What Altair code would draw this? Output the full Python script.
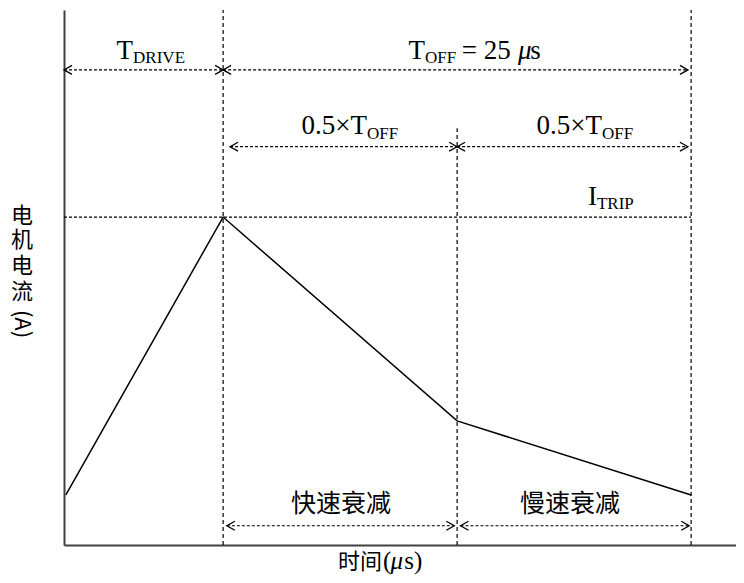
import altair as alt
import pandas as pd

# ---- data (x in µs, y in current units) ----
cur_t = [0.1, 8.5, 21.0, 33.5]
cur_i = [9.35, 61.3, 23.2, 9.35]

# dashed guide lines
vline_x = [8.5, 21.0, 33.5]
vline_top = [100, 77.9, 100]
itrip_level = 61.3
itrip_end = 33.5

# dashed arrows (left tip, right tip, level)
arr_x1 = [0.0, 8.5, 8.87, 21.0, 8.7, 21.18]
arr_x2 = [8.5, 33.33, 21.0, 33.33, 20.85, 33.4]
arr_y = [88.8, 88.8, 74.45, 74.45, 3.6, 3.6]

# main-size serif labels (right aligned before a subscript)
main_txt = ["T", "T", "0.5×T", "0.5×T", "I"]
main_x = [3.69, 19.28, 16.19, 28.74, 28.47]
main_y = [90.8, 90.8, 76.77, 76.77, 63.55]
# subscripts
sub_txt = ["DRIVE", "OFF", "OFF", "OFF", "TRIP"]
sub_y = [90.15, 90.15, 75.98, 75.98, 62.8]
# plain serif pieces (left aligned)
plain_txt = ["= 25", "s"]
plain_x = [21.25, 24.9]
plain_y = [90.8, 90.8]
ital_txt = ["μ"]
ital_x = [24.25]
ital_y = [90.8]
# x-axis title pieces
xt_serif_txt = ["(", "s)"]
xt_serif_x = [17.04, 18.18]
xt_ital_txt = ["μ"]
xt_ital_x = [17.44]
xt_serif_y = -4.5
# Chinese labels
cjk_txt = ["快速衰减", "慢速衰减"]
cjk_x = [14.8, 27.03]
cjk_y = [7.66, 7.66]
xtitle_txt = ["时间"]
xtitle_x = [16.99]
xtitle_y = [-3.2]
ytitle_chars = ["电", "机", "电", "流"]
ytitle_y = [61.5, 57.0, 52.1, 47.3]
ytitle_x = -2.24
ytitle_tail = "(A)"
ytitle_tail_y = 41.3

PX_PER_US = 18.72
PLOT_W = 672
XMAX = PLOT_W / PX_PER_US
xs = alt.Scale(domain=[0, XMAX], nice=False, zero=False)
ys = alt.Scale(domain=[0, 100], nice=False, zero=False)
SERIF = "Liberation Serif"
SANS = "Noto Sans CJK SC"
DASH_V = [4, 3]
DASH_H = [3, 2]

axis_x = alt.Axis(ticks=False, labels=False, grid=False, title=None,
                  domainColor="#404040", domainWidth=2)
axis_y = alt.Axis(ticks=False, labels=False, grid=False, title=None,
                  domainColor="#404040", domainWidth=2)

curve = pd.DataFrame({"t": cur_t, "i": cur_i})
line = alt.Chart(curve).mark_line(color="black", strokeWidth=1.5).encode(
    x=alt.X("t:Q", scale=xs, axis=axis_x),
    y=alt.Y("i:Q", scale=ys, axis=axis_y),
)

vdf = pd.DataFrame({"x": vline_x, "y": [0] * 3, "y2": vline_top})
vlines = alt.Chart(vdf).mark_rule(color="black", strokeWidth=1.2, strokeDash=DASH_V).encode(
    x=alt.X("x:Q", scale=xs), y=alt.Y("y:Q", scale=ys), y2="y2:Q")

hdf = pd.DataFrame({"x": [0], "x2": [itrip_end], "y": [itrip_level]})
hline = alt.Chart(hdf).mark_rule(color="black", strokeWidth=1.2, strokeDash=DASH_H).encode(
    x=alt.X("x:Q", scale=xs), x2="x2:Q", y=alt.Y("y:Q", scale=ys))

adf = pd.DataFrame({"x1": arr_x1, "x2": arr_x2, "y": arr_y})
shafts = alt.Chart(adf).mark_rule(color="black", strokeWidth=1.2, strokeDash=DASH_H).encode(
    x=alt.X("x1:Q", scale=xs), x2="x2:Q", y=alt.Y("y:Q", scale=ys))
left_heads = alt.Chart(adf).mark_point(
    shape="M1,-0.56L0,0L1,0.56", size=256, filled=False, color="black", strokeWidth=1.3,
    opacity=1).encode(x=alt.X("x1:Q", scale=xs), y=alt.Y("y:Q", scale=ys))
right_heads = alt.Chart(adf).mark_point(
    shape="M-1,-0.56L0,0L-1,0.56", size=256, filled=False, color="black", strokeWidth=1.3,
    opacity=1).encode(x=alt.X("x2:Q", scale=xs), y=alt.Y("y:Q", scale=ys))


def text_layer(xv, yv, tv, **kw):
    df = pd.DataFrame({"x": xv, "y": yv, "t": tv})
    return alt.Chart(df).mark_text(color="black", **kw).encode(
        x=alt.X("x:Q", scale=xs), y=alt.Y("y:Q", scale=ys), text="t:N")


main_lbl = text_layer(main_x, main_y, main_txt, font=SERIF, fontSize=27,
                      align="right", baseline="alphabetic")
sub_lbl = text_layer(main_x, sub_y, sub_txt, font=SERIF, fontSize=17,
                     align="left", baseline="alphabetic")
plain_lbl = text_layer(plain_x, plain_y, plain_txt, font=SERIF, fontSize=27,
                       align="left", baseline="alphabetic")
ital_lbl = text_layer(ital_x, ital_y, ital_txt, font=SERIF, fontSize=27, fontStyle="italic",
                      align="left", baseline="alphabetic")
xts_lbl = text_layer(xt_serif_x, [xt_serif_y] * 2, xt_serif_txt, font=SERIF, fontSize=25,
                     align="left", baseline="alphabetic")
xti_lbl = text_layer(xt_ital_x, [xt_serif_y], xt_ital_txt, font=SERIF, fontSize=25,
                     fontStyle="italic", align="left", baseline="alphabetic")
cjk_lbl = text_layer(cjk_x, cjk_y, cjk_txt, font=SANS, fontSize=25,
                     align="center", baseline="middle")
xt_lbl = text_layer(xtitle_x, xtitle_y, xtitle_txt, font=SANS, fontSize=22,
                    align="right", baseline="middle")
yt_lbl = text_layer([ytitle_x] * len(ytitle_chars), ytitle_y, ytitle_chars, font=SANS,
                    fontSize=22, align="center", baseline="middle")
ytt_lbl = text_layer([ytitle_x], [ytitle_tail_y], [ytitle_tail], font=SANS, fontSize=22,
                     align="center", baseline="middle", angle=90)

chart = alt.layer(
    vlines, hline, shafts, left_heads, right_heads, line,
    main_lbl, sub_lbl, plain_lbl, ital_lbl, xts_lbl, xti_lbl, cjk_lbl, xt_lbl, yt_lbl, ytt_lbl,
).properties(
    width=PLOT_W, height=535,
    autosize=alt.AutoSizeParams(type="none"),
    padding={"left": 56, "top": 2, "right": 0, "bottom": 30},
    background="white",
).configure_view(stroke=None)

chart.save("out.html", embed_options={"renderer": "svg", "actions": False})
